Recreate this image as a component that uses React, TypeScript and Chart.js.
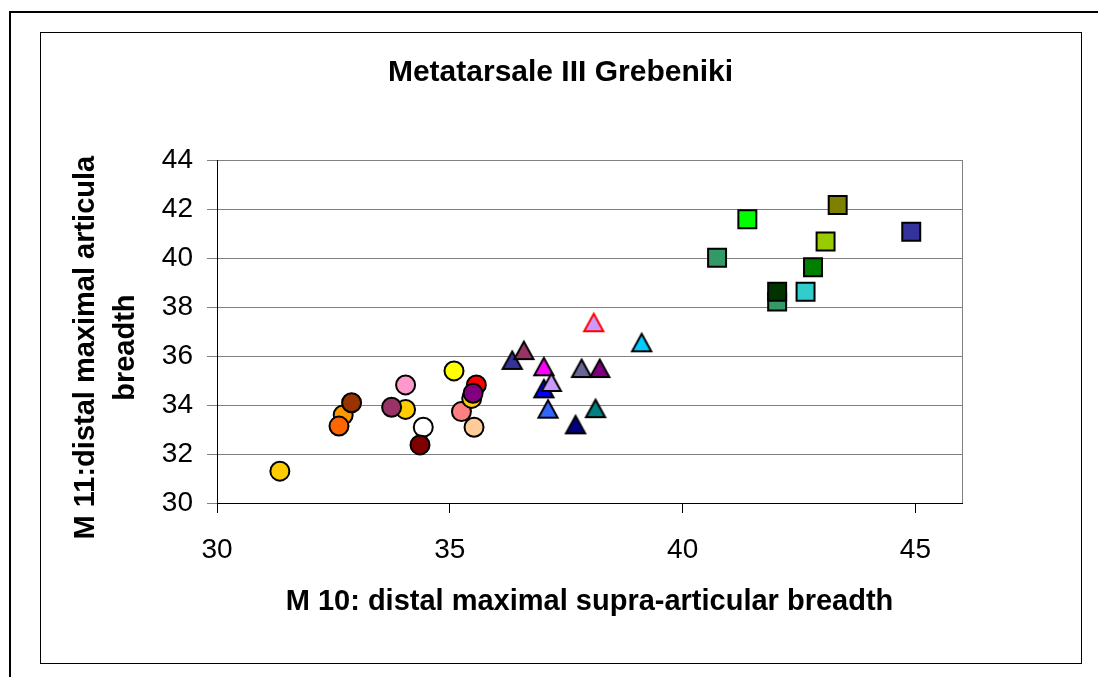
import { useEffect, useRef } from 'react';
import { Chart, registerables } from 'chart.js';

Chart.register(...registerables);

// ---- data ----
const circleX = [31.35, 32.71, 32.62, 32.89, 34.05, 34.05, 33.75, 34.43, 34.36, 35.09, 35.25, 35.52, 35.47, 35.57, 35.5];
const circleY = [31.3, 33.59, 33.14, 34.09, 34.82, 33.82, 33.91, 33.09, 32.37, 35.39, 33.73, 33.09, 34.27, 34.82, 34.48];
const circleColors = ['#FFCC00', '#FF9900', '#FF6600', '#993300', '#FF99CC', '#FFCC00', '#993366', '#FFFFFF', '#800000', '#FFFF00', '#FF8080', '#FFCC99', '#FFCC00', '#FF0000', '#800080'];

const triangleX = [36.34, 36.59, 37.02, 37.02, 37.18, 37.11, 37.7, 38.13, 37.83, 38.22, 38.09, 39.12];
const triangleY = [35.84, 36.24, 35.58, 34.68, 34.94, 33.85, 33.21, 33.87, 35.51, 35.51, 37.38, 36.56];
const triangleColors = ['#333399', '#993366', '#FF00FF', '#0000FF', '#CC99FF', '#3366FF', '#000080', '#008080', '#666699', '#800080', '#CC99FF', '#00CCFF'];
const triangleEdges = ['#000', '#000', '#000', '#000', '#000', '#000', '#000', '#000', '#000', '#000', '#FF0000', '#000'];

const squareX = [40.74, 41.39, 43.33, 43.07, 42.8, 42.64, 42.03, 42.03, 44.91];
const squareY = [40.01, 41.58, 42.16, 40.67, 39.62, 38.62, 38.22, 38.62, 41.07];
const squareColors = ['#339966', '#00FF00', '#808000', '#99CC00', '#008000', '#33CCCC', '#339966', '#003300', '#333399'];

const xTicks = [30, 35, 40, 45];
const yTicks = [30, 32, 34, 36, 38, 40, 42, 44];

const titleText = 'Metatarsale III Grebeniki';
const xTitle = 'M 10: distal maximal supra-articular breadth';
const yTitle = ['M 11:distal maximal articula    ', 'breadth    '];

const FONT = "'Liberation Sans', Arial, Helvetica, sans-serif";

function makeTriangle(fill: string, edge: string): HTMLCanvasElement {
  const c = document.createElement('canvas');
  c.width = 24;
  c.height = 24;
  const g = c.getContext('2d')!;
  g.beginPath();
  g.moveTo(12, 3.6);
  g.lineTo(21.6, 21);
  g.lineTo(2.4, 21);
  g.closePath();
  g.fillStyle = fill;
  g.fill();
  g.lineWidth = 2;
  g.strokeStyle = edge;
  g.stroke();
  return c;
}

const framePlugin = {
  id: 'frames',
  beforeDraw(chart: any) {
    const ctx = chart.ctx;
    ctx.save();
    ctx.fillStyle = '#fff';
    ctx.fillRect(0, 0, chart.width, chart.height);
    ctx.strokeStyle = '#000';
    ctx.lineWidth = 2;
    ctx.strokeRect(10, 12, chart.width + 100, chart.height + 100);
    ctx.lineWidth = 1;
    ctx.strokeStyle = '#000';
    ctx.strokeRect(40.5, 32.5, 1041, 631);
    ctx.restore();
  },
  beforeDatasetsDraw(chart: any) {
    const { top, bottom, right } = chart.chartArea;
    const ctx = chart.ctx;
    ctx.save();
    ctx.strokeStyle = '#808080';
    ctx.lineWidth = 1;
    ctx.beginPath();
    ctx.moveTo(Math.round(right) + 0.5, top);
    ctx.lineTo(Math.round(right) + 0.5, bottom);
    ctx.stroke();
    ctx.restore();
  },
};

export default function App() {
  const ref = useRef<HTMLCanvasElement>(null);

  useEffect(() => {
    const triImages = triangleColors.map((c, i) => makeTriangle(c, triangleEdges[i]));
    const chart = new Chart(ref.current!, {
      type: 'scatter',
      data: {
        datasets: [
          {
            label: 'circles',
            data: circleX.map((x, i) => ({ x, y: circleY[i] })),
            pointStyle: 'circle',
            pointRadius: 9.5,
            pointBorderWidth: 2,
            pointBackgroundColor: circleColors,
            pointBorderColor: '#000',
          },
          {
            label: 'triangles',
            data: triangleX.map((x, i) => ({ x, y: triangleY[i] })),
            pointStyle: triImages as any,
            pointRadius: 10,
            pointBorderWidth: 0,
            pointBackgroundColor: triangleColors,
          },
          {
            label: 'squares',
            data: squareX.map((x, i) => ({ x, y: squareY[i] })),
            pointStyle: 'rect',
            pointRadius: 12.7,
            pointBorderWidth: 2,
            pointBackgroundColor: squareColors,
            pointBorderColor: '#000',
          },
        ] as any,
      },
      options: {
        animation: false,
        responsive: false,
        events: [],
        layout: { padding: { left: 40, right: 17, top: 0, bottom: 44 } },
        plugins: {
          legend: { display: false },
          tooltip: { enabled: false },
          title: {
            display: true,
            text: titleText,
            color: '#000',
            font: { family: FONT, size: 30, weight: 'bold', lineHeight: 1.2 },
            padding: { top: 55, bottom: 69 },
          },
        },
        scales: {
          x: {
            type: 'linear',
            min: 30,
            max: 46,
            afterBuildTicks: (s: any) => {
              s.ticks = xTicks.map((v) => ({ value: v }));
            },
            afterFit: (s: any) => {
              s.height = 130;
            },
            grid: { drawOnChartArea: false, drawTicks: true, tickLength: 10, color: '#000', lineWidth: 1 },
            border: { display: true, color: '#000', width: 1 },
            ticks: { color: '#000', padding: 20, font: { family: FONT, size: 28 }, maxRotation: 0 },
            title: {
              display: true,
              text: xTitle,
              color: '#000',
              font: { family: FONT, size: 29, weight: 'bold', lineHeight: 1.2 },
              padding: { top: 0, bottom: 14 },
            },
          },
          y: {
            type: 'linear',
            min: 30,
            max: 44,
            afterBuildTicks: (s: any) => {
              s.ticks = yTicks.map((v) => ({ value: v }));
            },
            afterFit: (s: any) => {
              s.width = 177;
            },
            grid: { color: '#808080', lineWidth: 1, drawTicks: true, tickLength: 10, tickColor: '#808080' },
            border: { display: true, color: '#000', width: 1 },
            ticks: { color: '#000', padding: 14, font: { family: FONT, size: 28 } },
            title: {
              display: true,
              text: yTitle,
              color: '#000',
              font: { family: FONT, size: 29, weight: 'bold', lineHeight: 40 / 29 },
              padding: { top: 26, bottom: 0 },
            },
          },
          y2: {
            type: 'linear',
            position: 'right',
            display: true,
            afterFit: (s: any) => {
              s.width = 119;
            },
            grid: { display: false },
            border: { display: false },
            ticks: { display: false },
          },
        },
      } as any,
      plugins: [framePlugin],
    });
    return () => chart.destroy();
  }, []);

  return (
    <div style={{ position: 'fixed', left: 0, top: 0, width: 1098, height: 677, background: '#fff' }}>
      <canvas ref={ref} width={1098} height={677} style={{ display: 'block', width: 1098, height: 677 }} />
    </div>
  );
}
